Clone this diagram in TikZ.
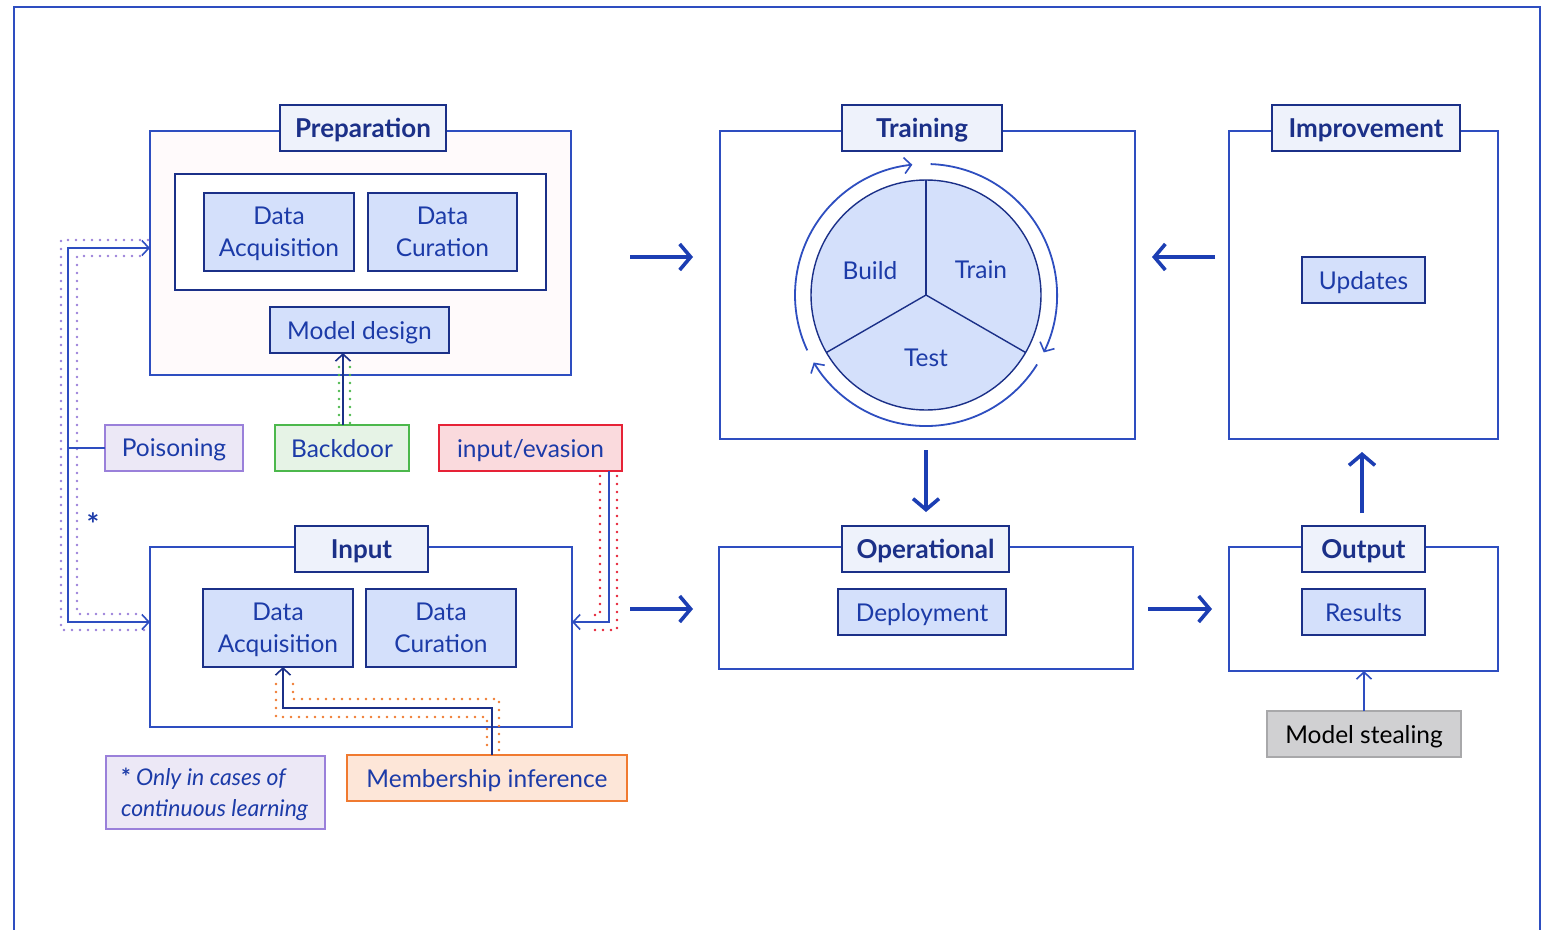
\documentclass[tikz,border=0pt]{standalone}
\usepackage{fontspec}
\setmainfont{Lato}
\usetikzlibrary{arrows.meta}
\definecolor{navy}{HTML}{1B3088}
\definecolor{mblue}{HTML}{2E4EC0}
\definecolor{txtblue}{HTML}{1C3BA8}
\definecolor{fillblue}{HTML}{D4E0FB}
\definecolor{titlefill}{HTML}{EEF2FB}
\definecolor{prepfill}{HTML}{FFFAFB}
\definecolor{lav}{HTML}{9A80DA}
\definecolor{lavfill}{HTML}{ECE8F6}
\definecolor{grn}{HTML}{4CB84C}
\definecolor{grnfill}{HTML}{E6F3E6}
\definecolor{rd}{HTML}{E62236}
\definecolor{rdfill}{HTML}{FADADD}
\definecolor{org}{HTML}{F07A30}
\definecolor{orgfill}{HTML}{FDE6D8}
\definecolor{gry}{HTML}{A8A8AA}
\definecolor{gryfill}{HTML}{D0D0D2}
\definecolor{arrblue}{HTML}{1C3EB3}
\begin{document}
\begin{tikzpicture}[x=1pt,y=-1pt,
  every node/.style={font=\fontsize{24.5}{32}\selectfont, inner sep=0pt, outer sep=0pt, text depth=0pt},
  bigbox/.style={draw=mblue, line width=1.4pt, fill=white},
  titlebox/.style={draw=navy, line width=1.6pt, fill=titlefill, text=navy, font=\fontsize{26}{30}\selectfont\bfseries},
  inbox/.style={draw=navy, line width=1.4pt, fill=fillblue, text=txtblue, align=center},
  attack/.style={line width=1.4pt, text=txtblue},
  conn/.style={draw=mblue, line width=1.8pt},
  darkconn/.style={draw=navy, line width=1.8pt},
  tip/.style={-{Straight Barb[length=7pt,width=15pt,line width=1.6pt]}},
  dots/.style={line width=2.9pt, line cap=round, dash pattern=on 0pt off 8pt},
  big/.style={draw=arrblue, line width=4pt, -{Straight Barb[length=11pt,width=26pt,line width=3.6pt]}},
  ring/.style={draw=mblue, line width=1.8pt, -{Straight Barb[length=7pt,width=16pt,line width=1.6pt]}}
]
\useasboundingbox (0,0) rectangle (1544,929);
\draw[draw=mblue, line width=2pt] (14,7) rectangle (1540,960);

% Preparation
\node[bigbox, fill=prepfill, minimum width=421, minimum height=244] (prep) at (360.5,253) {};
\node[titlebox, minimum width=166, minimum height=46] (preptitle) at (363,128) {Preparation};
\node[draw=navy, line width=1.4pt, fill=white, minimum width=371, minimum height=116] (prepin) at (360.5,232) {};
\node[inbox, minimum width=150, minimum height=78] (pda) at (279,232) {Data\\Acquisition};
\node[inbox, minimum width=149, minimum height=78] (pdc) at (442.5,232) {Data\\Curation};
\node[inbox, minimum width=179, minimum height=46] (md) at (359.5,330) {Model design};

% Training
\node[bigbox, minimum width=415, minimum height=308] (train) at (927.5,285) {};
\node[titlebox, minimum width=160, minimum height=46] (traintitle) at (922,128) {Training};
\coordinate (c) at (926,295);
\fill[fillblue] (c) circle[radius=115];
\draw[navy, line width=1.4pt] (c) circle[radius=115];
\draw[navy, line width=1.4pt] (c) -- (926,180);
\draw[navy, line width=1.4pt] (c) -- (826.4,352.5);
\draw[navy, line width=1.4pt] (c) -- (1025.6,352.5);
\node[text=txtblue] (build) at (870,270) {Build};
\node[text=txtblue] (trn) at (981,270) {Train};
\node[text=txtblue] (test) at (926,358) {Test};
\draw[ring] ([shift={(-205:131)}]c) arc[start angle=-205, end angle=-96, radius=131];
\draw[ring] ([shift={(-88:131)}]c) arc[start angle=-88, end angle=26, radius=131];
\draw[ring] ([shift={(32:131)}]c) arc[start angle=32, end angle=149, radius=131];

% Improvement
\node[bigbox, minimum width=269, minimum height=308] (impr) at (1363.5,285) {};
\node[titlebox, minimum width=188, minimum height=46] (imprtitle) at (1366,128) {Improvement};
\node[inbox, minimum width=123, minimum height=46] (upd) at (1363.5,280) {Updates};

% Input
\node[bigbox, minimum width=422, minimum height=180] (input) at (361,637) {};
\node[titlebox, minimum width=133, minimum height=46] (inputtitle) at (361.5,549) {Input};
\node[inbox, minimum width=150, minimum height=78] (ida) at (278,628) {Data\\Acquisition};
\node[inbox, minimum width=150, minimum height=78] (idc) at (441,628) {Data\\Curation};

% Operational
\node[bigbox, minimum width=414, minimum height=122] (oper) at (926,608) {};
\node[titlebox, minimum width=167, minimum height=46] (opertitle) at (925.5,549) {Operational};
\node[inbox, minimum width=168, minimum height=46] (dep) at (922,612) {Deployment};

% Output
\node[bigbox, minimum width=269, minimum height=124] (out) at (1363.5,609) {};
\node[titlebox, minimum width=123, minimum height=46] (outtitle) at (1363.5,549) {Output};
\node[inbox, minimum width=123, minimum height=46] (res) at (1363.5,612) {Results};

% Attacks
\node[attack, draw=lav, fill=lavfill, minimum width=138, minimum height=46] (pois) at (174,448) {Poisoning};
\node[attack, draw=grn, fill=grnfill, minimum width=134, minimum height=46] (back) at (342,448) {Backdoor};
\node[attack, draw=rd, fill=rdfill, minimum width=183, minimum height=46] (evas) at (530.5,448) {input/evasion};
\node[attack, draw=org, fill=orgfill, minimum width=280, minimum height=46] (memb) at (487,778) {Membership inference};
\node[attack, draw=gry, fill=gryfill, text=black, minimum width=194, minimum height=46] (steal) at (1364,734) {Model stealing};
\node[attack, draw=lav, fill=lavfill, minimum width=219, minimum height=73] (note) at (215.5,792.5) {};
\node[text=txtblue, align=left, anchor=west, font=\fontsize{23}{31}\selectfont\itshape] (notetext) at (121,792.5) {{\upshape\bfseries *} Only in cases of\\continuous learning};
\node[text=txtblue, font=\fontsize{30}{30}\selectfont\bfseries] (star) at (93,524) {*};

% Poisoning connectors
\coordinate (pj) at (68,448);
\draw[lav, dots] (148,240) -- (61,240) -- (61,630) -- (148,630);
\draw[lav, dots] (140,256) -- (77,256) -- (77,614) -- (140,614);
\draw[conn] (pois.west) -- (pj);
\draw[conn, tip] (pj) |- (prep.west |- 0,248);
\draw[conn, tip] (pj) |- (input.west |- 0,622);

% Backdoor
\draw[grn, dots] (339,423) -- (339,362);
\draw[grn, dots] (350,423) -- (350,362);
\draw[darkconn, tip] (back.north -| 343,0) -- (md.south -| 343,0);

% Evasion
\draw[rd, dots] (600,476) -- (600,615) -- (590,615);
\draw[rd, dots] (617,476) -- (617,630) -- (588,630);
\draw[conn, tip] (evas.south -| 609,0) -- (609,622) -- (input.east |- 0,622);

% Membership
\draw[org, dots] (276,684) -- (276,717) -- (487,717) -- (487,750);
\draw[org, dots] (293,684) -- (293,699) -- (499,699) -- (499,750);
\draw[darkconn, tip] (memb.north -| 492,0) -- (492,708) -- (283,708) -- (ida.south -| 283,0);

% Model stealing
\draw[conn, tip] (steal.north) -- (out.south -| steal.north);

% Big arrows
\draw[big, shorten <=59pt, shorten >=27pt] (prep.east |- 0,257) -- (train.west |- 0,257);
\draw[big, shorten <=14pt, shorten >=17pt] (impr.west |- 0,257) -- (train.east |- 0,257);
\draw[big, shorten <=11pt, shorten >=14pt] (train.south -| 926,0) -- (opertitle.north -| 926,0);
\draw[big, shorten <=58pt, shorten >=26pt] (input.east |- 0,609) -- (oper.west |- 0,609);
\draw[big, shorten <=15pt, shorten >=17pt] (oper.east |- 0,609) -- (out.west |- 0,609);
\draw[big, shorten <=13pt, shorten >=13pt] (outtitle.north -| 1362,0) -- (impr.south -| 1362,0);
\end{tikzpicture}
\end{document}
